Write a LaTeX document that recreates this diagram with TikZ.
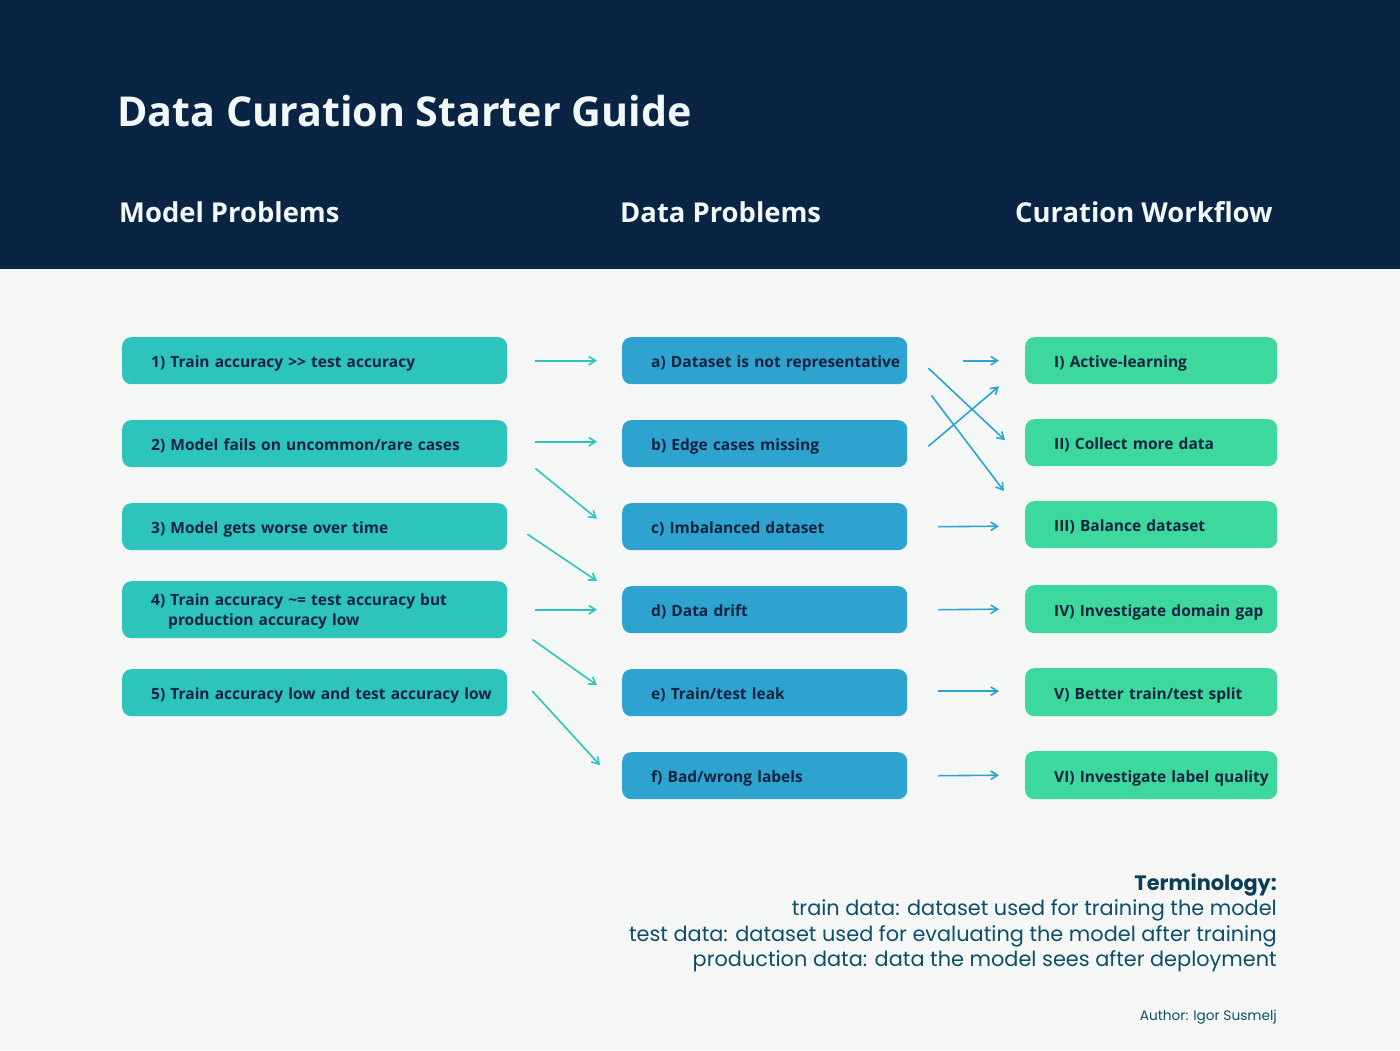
\documentclass[tikz,border=0pt]{standalone}
\usepackage{fontspec}
\setmainfont{Open Sans}
\newfontfamily\termfont{Poppins}
\usetikzlibrary{arrows.meta,calc}
\definecolor{navy}{HTML}{0A2444}
\definecolor{bodybg}{HTML}{F5F7F7}
\definecolor{tealbox}{HTML}{2EC4BE}
\definecolor{bluebox}{HTML}{2EA3CF}
\definecolor{greenbox}{HTML}{3DD89E}
\definecolor{boxtext}{HTML}{10233F}
\definecolor{headtext}{HTML}{F2F8F8}
\definecolor{termcol}{HTML}{0E4E69}
\tikzset{
  box/.style={rounded corners=9pt, anchor=north west, minimum height=47pt,
    inner xsep=0pt, inner ysep=0pt, align=left, text=boxtext,
    text height=17.5pt, text depth=3.7pt,
    font=\fontsize{15.5}{20}\selectfont\bfseries},
  lbox/.style={box, fill=tealbox, text width=385pt},
  mbox/.style={box, fill=bluebox, text width=285pt},
  rbox/.style={box, fill=greenbox, text width=252pt},
  arrT/.style={draw=tealbox, line width=1.6pt, -{Straight Barb[angle=64:8pt]}},
  arrB/.style={draw=bluebox, line width=1.6pt, -{Straight Barb[angle=64:8pt]}},
  head/.style={anchor=base west, inner sep=0pt, text=headtext, font=\fontsize{27.4}{30}\selectfont\bfseries},
  term/.style={anchor=base east, inner sep=0pt, text=termcol, font=\termfont\fontsize{20.85}{24}\selectfont},
}
\newcommand{\pad}{\hspace*{29pt}}
\begin{document}
\begin{tikzpicture}[x=1pt,y=-1pt]
\useasboundingbox (0,0) rectangle (1400,1050);
\fill[bodybg] (0,0) rectangle (1400,1050);
\fill[navy] (0,0) rectangle (1400,269);
\node[anchor=base west, inner sep=0pt, text=headtext, font=\fontsize{41.2}{46}\selectfont\bfseries] (title) at (117,126) {Data Curation Starter Guide};
\node[head] (h1) at (119,222) {Model Problems};
\node[head] (h2) at (620,222) {Data Problems};
\node[head] (h3) at (1015,222) {Curation Workflow};
% left
\node[lbox] (l1) at (122,337) {\pad 1) Train accuracy >{}> test accuracy};
\node[lbox] (l2) at (122,420) {\pad 2) Model fails on uncommon/rare cases};
\node[lbox] (l3) at (122,503) {\pad 3) Model gets worse over time};
\node[lbox, minimum height=57pt, text height=, text depth=] (l4) at (122,581) {\rule{0pt}{15.5pt}\pad 4) Train accuracy \textasciitilde= test accuracy but\\\hspace*{46pt}production accuracy low};
\node[lbox] (l5) at (122,669) {\pad 5) Train accuracy low and test accuracy low};
% middle
\node[mbox] (ma) at (622,337) {\pad a) Dataset is not representative};
\node[mbox] (mb) at (622,420) {\pad b) Edge cases missing};
\node[mbox] (mc) at (622,503) {\pad c) Imbalanced dataset};
\node[mbox] (md) at (622,586) {\pad d) Data drift};
\node[mbox] (me) at (622,669) {\pad e) Train/test leak};
\node[mbox] (mf) at (622,752) {\pad f) Bad/wrong labels};
% right
\node[rbox] (r1) at (1025,337) {\pad I) Active-learning};
\node[rbox] (r2) at (1025,419) {\pad II) Collect more data};
\node[rbox] (r3) at (1025,501) {\pad III) Balance dataset};
\node[rbox, minimum height=48pt] (r4) at (1025,585) {\pad IV) Investigate domain gap};
\node[rbox, minimum height=48pt] (r5) at (1025,668) {\pad V) Better train/test split};
\node[rbox, minimum height=48pt] (r6) at (1025,751) {\pad VI) Investigate label quality};
% left arrows
\draw[arrT] ($(l1.east)+(28,0)$) -- ($(ma.west)+(-25,0)$);
\draw[arrT] ($(l2.east)+(28,-2)$) -- ($(mb.west)+(-25,-2)$);
\draw[arrT] ($(l2.south east)+(28,1)$) -- ($(mc.west)+(-25,-8)$);
\draw[arrT] ($(l3.east)+(20,7.5)$) -- ($(md.north west)+(-25,-5)$);
\draw[arrT] ($(l4.east)+(28,0)$) -- ($(md.west)+(-25,0)$);
\draw[arrT] ($(l4.south east)+(25,1)$) -- ($(me.west)+(-25,-7.5)$);
\draw[arrT] ($(l5.east)+(25,-1.5)$) -- ($(mf.west)+(-22,-10.5)$);
% right arrows
\draw[arrB] ($(ma.east)+(56,0)$) -- ($(r1.west)+(-26,0)$);
\draw[arrB] ($(ma.east)+(21,7.5)$) -- ($(r2.west)+(-20,-2.5)$);
\draw[arrB] ($(ma.south east)+(24,11)$) -- ($(r3.north west)+(-21,-10)$);
\draw[arrB] ($(mb.east)+(21,2.5)$) -- ($(r1.south west)+(-26,2)$);
\draw[arrB] ($(mc.east)+(31,0)$) -- ($(r3.west)+(-26,1.5)$);
\draw[arrB] ($(md.east)+(31,0)$) -- ($(r4.west)+(-26,0)$);
\draw[arrB] ($(me.east)+(31,-1.5)$) -- ($(r5.west)+(-26,-1)$);
\draw[arrB] ($(mf.east)+(31,0)$) -- ($(r6.west)+(-26,0)$);
% terminology
\node[term, font=\termfont\fontsize{20.85}{24}\selectfont\bfseries, text=termcol!80!black] (t0) at (1277,890) {Terminology:};
\node[term] (t1) at (1277,915) {train data: dataset used for training the model};
\node[term] (t2) at (1277,941) {test data: dataset used for evaluating the model after training};
\node[term] (t3) at (1277,966) {production data: data the model sees after deployment};
\node[anchor=base east, inner sep=0pt, text=termcol, font=\termfont\fontsize{13.7}{15}\selectfont] (auth) at (1277,1020) {Author: Igor Susmelj};
\end{tikzpicture}
\end{document}
